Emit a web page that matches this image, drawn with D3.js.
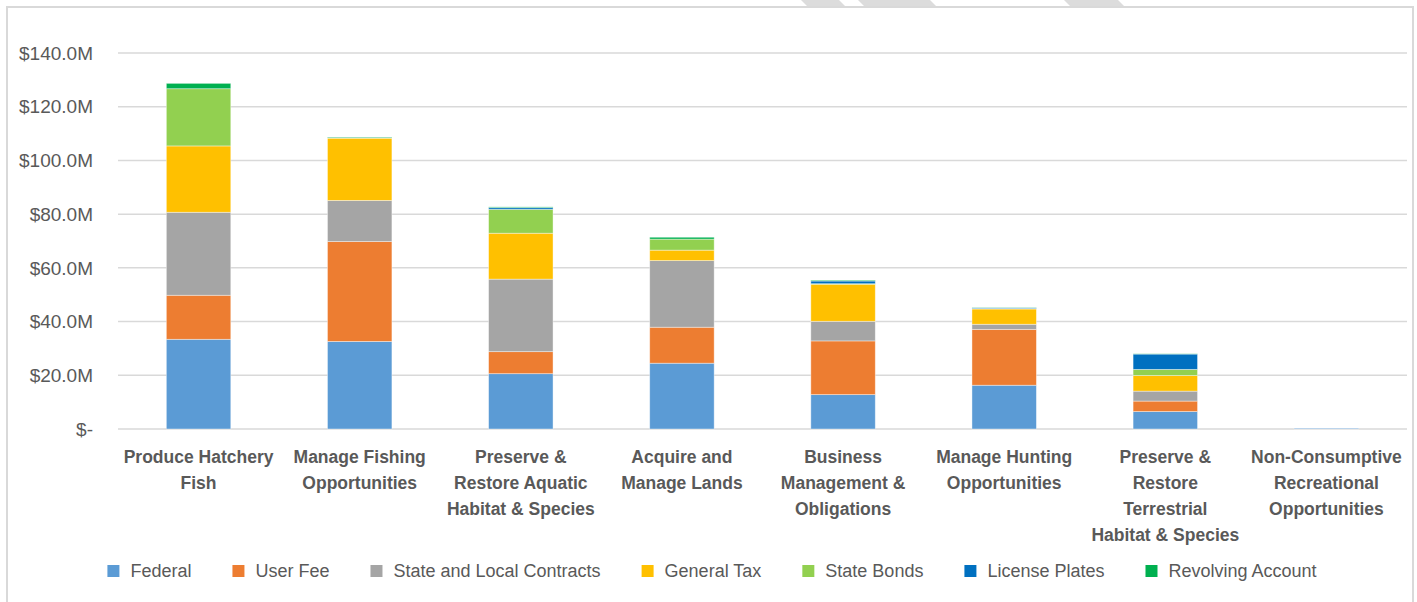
<!DOCTYPE html>
<html>
<head>
<meta charset="utf-8">
<script src="https://cdn.jsdelivr.net/npm/d3@7"></script>
<style>
  body { margin: 0; background: #fff; }
  text { font-family: "Liberation Sans", Arial, sans-serif; }
</style>
</head>
<body>
<div id="chart"></div>
<script>
// categories (line breaks as in the original axis labels)
var categories = [
  "Produce Hatchery\nFish",
  "Manage Fishing\nOpportunities",
  "Preserve &\nRestore Aquatic\nHabitat & Species",
  "Acquire and\nManage Lands",
  "Business\nManagement &\nObligations",
  "Manage Hunting\nOpportunities",
  "Preserve &\nRestore\nTerrestrial\nHabitat & Species",
  "Non-Consumptive\nRecreational\nOpportunities"
];

var series = ["Federal", "User Fee", "State and Local Contracts", "General Tax",
  "State Bonds", "License Plates", "Revolving Account"];

var colors = ["#5B9BD5", "#ED7D31", "#A5A5A5", "#FFC000", "#92D050", "#0070C0", "#00B050"];

// values in $ millions
var federal         = [33.4, 32.6, 20.6, 24.5, 12.8, 16.3, 6.5, 0.3];
var userFee         = [16.4, 37.2,  8.2, 13.4, 20.0, 20.8, 3.9, 0];
var stateLocal      = [30.9, 15.3, 27.0, 24.8,  7.3,  1.9, 3.7, 0];
var generalTax      = [24.7, 23.2, 17.1,  3.9, 13.8,  5.7, 5.8, 0];
var stateBonds      = [21.3,  0.1,  8.9,  4.1,  0.2,  0.1, 2.3, 0];
var licensePlates   = [ 0,    0.1,  0.6,  0,    1.0,  0.3, 5.7, 0];
var revolvingAcct   = [ 2.0,  0.2,  0.3,  0.7,  0.3,  0.1, 0.1, 0];

var yTicks = [0, 20, 40, 60, 80, 100, 120, 140];

var W = 1417, H = 602;
var margin = { top: 53, left: 118, right: 10, bottom: 173 };

var svg = d3.select("#chart").append("svg")
  .attr("width", W)
  .attr("height", H);

// faint diagonal stripes at the very top of the picture
var stripes = [[805, 843], [862, 934], [1068, 1122]];
svg.selectAll(".stripe")
  .data(stripes)
  .enter().append("polygon")
  .attr("points", function(d) {
    return [[d[0] - 4, 0], [d[1] - 4, 0], [d[1] + 3, 7], [d[0] + 3, 7]].join(" ");
  })
  .attr("fill", "#dcdcdc");

// chart frame
svg.append("rect")
  .attr("x", 7).attr("y", 7)
  .attr("width", 1406).attr("height", 640)
  .attr("fill", "none")
  .attr("stroke", "#d9d9d9")
  .attr("stroke-width", 2);

var table = categories.map(function(c, i) {
  return {
    cat: c,
    "Federal": federal[i],
    "User Fee": userFee[i],
    "State and Local Contracts": stateLocal[i],
    "General Tax": generalTax[i],
    "State Bonds": stateBonds[i],
    "License Plates": licensePlates[i],
    "Revolving Account": revolvingAcct[i]
  };
});

var x = d3.scaleBand()
  .domain(categories)
  .range([margin.left, W - margin.right])
  .paddingInner(0.6)
  .paddingOuter(0.3);

var y = d3.scaleLinear()
  .domain([0, 140])
  .range([429, margin.top]);

var color = d3.scaleOrdinal().domain(series).range(colors);

// gridlines
svg.append("g")
  .selectAll("line")
  .data(yTicks)
  .enter().append("line")
  .attr("x1", margin.left)
  .attr("x2", W - margin.right)
  .attr("y1", function(d) { return y(d); })
  .attr("y2", function(d) { return y(d); })
  .attr("stroke", "#d9d9d9")
  .attr("stroke-width", 1.5);

// y tick labels
svg.append("g")
  .selectAll("text")
  .data(yTicks)
  .enter().append("text")
  .attr("x", 93)
  .attr("y", function(d) { return y(d); })
  .attr("dy", "0.35em")
  .attr("text-anchor", "end")
  .attr("fill", "#595959")
  .style("font-size", "19px")
  .text(function(d) { return d === 0 ? "$-" : "$" + d.toFixed(1) + "M"; });

// stacked bars
var stacked = d3.stack().keys(series)(table);

svg.append("g")
  .selectAll("g")
  .data(stacked)
  .enter().append("g")
  .attr("fill", function(d) { return color(d.key); })
  .selectAll("rect")
  .data(function(d) { return d; })
  .enter().append("rect")
  .attr("x", function(d) { return x(d.data.cat); })
  .attr("width", x.bandwidth())
  .attr("y", function(d) { return y(d[1]); })
  .attr("height", function(d) { return Math.max(0, y(d[0]) - y(d[1])); })
  .attr("stroke", "#ffffff")
  .attr("stroke-opacity", 0.5)
  .attr("stroke-width", 0.8);

// category labels
var catLabels = svg.append("g")
  .selectAll("text")
  .data(categories)
  .enter().append("text")
  .attr("x", function(d) { return x(d) + x.bandwidth() / 2; })
  .attr("y", 463)
  .attr("text-anchor", "middle")
  .attr("fill", "#595959")
  .style("font-size", "17.5px")
  .style("font-weight", "bold");

catLabels.selectAll("tspan")
  .data(function(d) { return d.split("\n"); })
  .enter().append("tspan")
  .attr("x", function() { return this.parentNode.getAttribute("x"); })
  .attr("dy", function(d, i) { return i === 0 ? 0 : 26; })
  .text(function(d) { return d; });

// legend
var legend = svg.append("g");
var items = legend.selectAll("g")
  .data(series)
  .enter().append("g");

items.append("rect")
  .attr("width", 12)
  .attr("height", 12)
  .attr("y", 565)
  .attr("fill", function(d) { return color(d); });

items.append("text")
  .attr("x", 23)
  .attr("y", 571)
  .attr("dy", "0.35em")
  .attr("fill", "#595959")
  .style("font-size", "18px")
  .text(function(d) { return d; });

var widths = [];
items.each(function() {
  widths.push(d3.select(this).select("text").node().getComputedTextLength() + 23);
});
var gap = 41;
var total = d3.sum(widths) + gap * (widths.length - 1);
var start = 712 - total / 2;
var pos = 0;
items.attr("transform", function(d, i) {
  var t = "translate(" + (start + pos) + ",0)";
  pos += widths[i] + gap;
  return t;
});
</script>
</body>
</html>
